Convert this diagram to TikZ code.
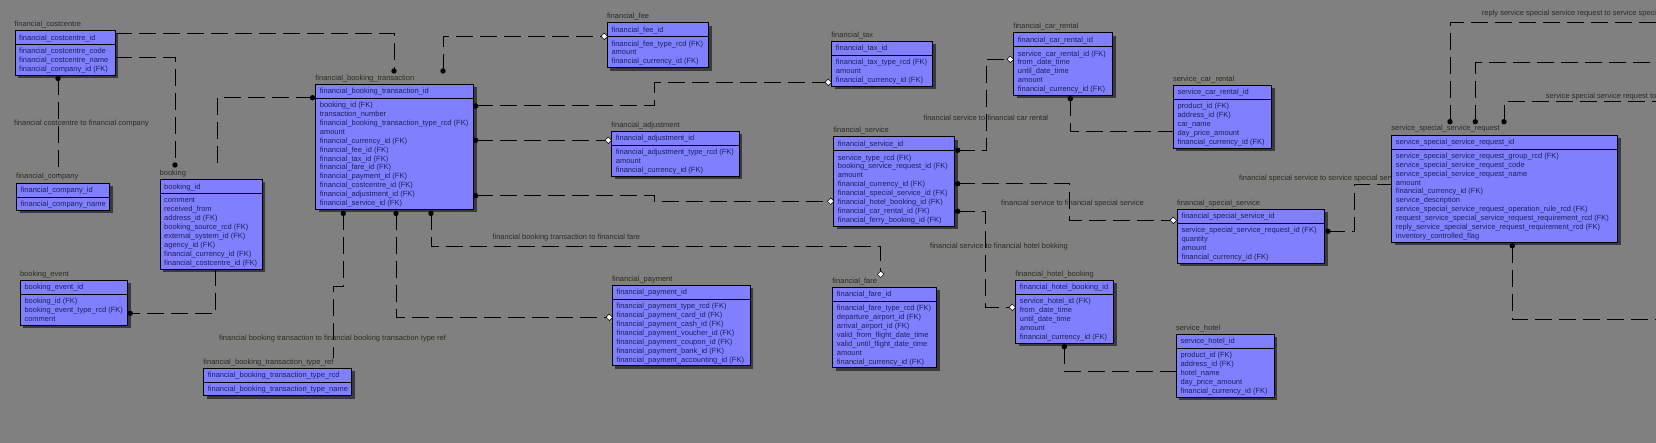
\documentclass[tikz,border=0pt]{standalone}
\usepackage{fontspec}
\setmainfont{Liberation Sans}
\usetikzlibrary{calc}
\definecolor{bgc}{HTML}{808080}
\definecolor{boxfill}{HTML}{8080FF}
\definecolor{rowtxt}{HTML}{1E1E5A}
\definecolor{lbltxt}{HTML}{2E2A20}
\definecolor{shadowc}{HTML}{3A3A3A}
\tikzset{
  entbox/.style={draw=black, line width=0.9pt, fill=boxfill, inner sep=0pt, outer sep=0pt},
  ttl/.style={anchor=base west, inner sep=0pt, text=lbltxt, font=\fontsize{7.5}{9}\selectfont},
  rowt/.style={anchor=base west, inner sep=0pt, text=rowtxt, font=\fontsize{7.5}{9}\selectfont},
  lbl/.style={anchor=base west, inner sep=0pt, text=lbltxt, font=\fontsize{7.5}{9}\selectfont},
  rel/.style={draw=black, line width=1pt, dash pattern=on 17pt off 7pt},
}
\newcommand\entity[8]{%
  \pgfmathsetmacro\ybot{#3+18.3+#5*8.9}%
  \fill[shadowc] (#2+3,#3+3) rectangle (#4+3,\ybot+3);
  \node[entbox, minimum width={#4-#2}, minimum height={\ybot-#3}, anchor=north west] (#1) at (#2,#3) {};
  \draw[line width=0.9pt] (#2,#3+14) -- (#4,#3+14);
  \node[ttl] at (#2-0.5,#3-4) {#6};
  \node[rowt] at (#2+4,#3+9.6) {#7};
  \foreach \r [count=\i] in {#8} \node[rowt] at (#2+4,#3+23.4+\i*8.9-8.9) {\r};
}
\newcommand\dotat[1]{\fill[black] (#1) circle (2.7);}
\newcommand\diamat[1]{\filldraw[fill=white,draw=black,line width=0.5pt] ([xshift=-3.3pt]#1) -- ([yshift=3.3pt]#1) -- ([xshift=3.3pt]#1) -- ([yshift=-3.3pt]#1) -- cycle;}
\begin{document}
\catcode`\_=12
\begin{tikzpicture}[x=1pt,y=-1pt]
\clip (0,0) rectangle (1656,443);
\fill[bgc] (0,0) rectangle (1656,443);

% relation labels
\node[lbl] (l1) at (14,125.6) {financial costcentre to financial company};
\node[lbl] (l2) at (219,340.9) {financial booking transaction to financial booking transaction type ref};
\node[lbl] (l3) at (492.3,239.6) {financial booking transaction to financial fare};
\node[lbl] (l4) at (923.3,120.6) {financial service to financial car rental};
\node[lbl] (l5) at (1001,205.6) {financial service to financial special service};
\node[lbl] (l6) at (930,248.6) {financial service to financial hotel bokking};
\node[lbl] (l7) at (1239,180.9) {financial special service to service special service request};
\node[lbl] (l8) at (1481.7,15.3) {reply service special service request to service special service request};
\node[lbl] (l9) at (1545.7,98.9) {service special service request to service special};

% entities
\entity{cc}{15}{30.5}{115}{3}{financial_costcentre}{financial_costcentre_id}{financial_costcentre_code,financial_costcentre_name,financial_company_id (FK)}
\entity{comp}{16.5}{183}{109.5}{1}{financial_company}{financial_company_id}{financial_company_name}
\entity{bk}{160}{179.5}{262}{8}{booking}{booking_id}{comment,received_from,address_id (FK),booking_source_rcd (FK),external_system_id (FK),agency_id (FK),financial_currency_id (FK),financial_costcentre_id (FK)}
\entity{bev}{20.3}{280.3}{127.7}{3}{booking_event}{booking_event_id}{booking_id (FK),booking_event_type_rcd (FK),comment}
\entity{tref}{203.7}{368.3}{351.7}{1}{financial_booking_transaction_type_ref}{financial_booking_transaction_type_rcd}{financial_booking_transaction_type_name}
\entity{fbt}{315.7}{84.3}{473.7}{12}{financial_booking_transaction}{financial_booking_transaction_id}{booking_id (FK),transaction_number,financial_booking_transaction_type_rcd (FK),amount,financial_currency_id (FK),financial_fee_id (FK),financial_tax_id (FK),financial_fare_id (FK),financial_payment_id (FK),financial_costcentre_id (FK),financial_adjustment_id (FK),financial_service_id (FK)}
\entity{fee}{607.3}{22.7}{708.7}{3}{financial_fee}{financial_fee_id}{financial_fee_type_rcd (FK),amount,financial_currency_id (FK)}
\entity{adj}{611.7}{131.3}{739.3}{3}{financial_adjustment}{financial_adjustment_id}{financial_adjustment_type_rcd (FK),amount,financial_currency_id (FK)}
\entity{pay}{612.3}{285.3}{750.3}{7}{financial_payment}{financial_payment_id}{financial_payment_type_rcd (FK),financial_payment_card_id (FK),financial_payment_cash_id (FK),financial_payment_voucher_id (FK),financial_payment_coupon_id (FK),financial_payment_bank_id (FK),financial_payment_accounting_id (FK)}
\entity{tax}{831.7}{41.3}{932.7}{3}{financial_tax}{financial_tax_id}{financial_tax_type_rcd (FK),amount,financial_currency_id (FK)}
\entity{svc}{833.7}{136.7}{954.7}{8}{financial_service}{financial_service_id}{service_type_rcd (FK),booking_service_request_id (FK),amount,financial_currency_id (FK),financial_special_service_id (FK),financial_hotel_booking_id (FK),financial_car_rental_id (FK),financial_ferry_booking_id (FK)}
\entity{fare}{832.7}{287.3}{936.7}{7}{financial_fare}{financial_fare_id}{financial_fare_type_rcd (FK),departure_airport_id (FK),arrival_airport_id (FK),valid_from_flight_date_time,valid_until_flight_date_time,amount,financial_currency_id (FK)}
\entity{car}{1013.7}{32.7}{1112.7}{5}{financial_car_rental}{financial_car_rental_id}{service_car_rental_id (FK),from_date_time,until_date_time,amount,financial_currency_id (FK)}
\entity{hotel}{1015.7}{280.3}{1113.7}{5}{financial_hotel_booking}{financial_hotel_booking_id}{service_hotel_id (FK),from_date_time,until_date_time,amount,financial_currency_id (FK)}
\entity{scar}{1173.3}{85.3}{1271.7}{5}{service_car_rental}{service_car_rental_id}{product_id (FK),address_id (FK),car_name,day_price_amount,financial_currency_id (FK)}
\entity{sss}{1177.3}{209.3}{1324.7}{4}{financial_special_service}{financial_special_service_id}{service_special_service_request_id (FK),quantity,amount,financial_currency_id (FK)}
\entity{shot}{1176.3}{334.3}{1274.3}{5}{service_hotel}{service_hotel_id}{product_id (FK),address_id (FK),hotel_name,day_price_amount,financial_currency_id (FK)}
\entity{ssr}{1391.7}{135}{1617.7}{10}{service_special_service_request}{service_special_service_request_id}{service_special_service_request_group_rcd (FK),service_special_service_request_code,service_special_service_request_name,amount,financial_currency_id (FK),service_description,service_special_service_request_operation_rule_rcd (FK),request_service_special_service_request_requirement_rcd (FK),reply_service_special_service_request_requirement_rcd (FK),inventory_controlled_flag}

% connector end points
\coordinate (a1) at ($(cc.north east)+(0,3.5)$);
\coordinate (b1) at ($(fbt.north west)+(78.3,-13.3)$);
\coordinate (a2) at ($(cc.north east)+(0,27)$);
\coordinate (b2) at ($(bk.north west)+(15,-14.5)$);
\coordinate (a3) at ($(cc.south west)+(43,3)$);
\coordinate (b3) at ($(comp.north west)+(41.5,-8)$);
\coordinate (a4) at ($(fbt.north west)+(-3.2,13.4)$);
\coordinate (b4) at ($(bk.north west)+(57,-9.5)$);
\coordinate (a5) at ($(bk.south west)+(55.7,0)$);
\coordinate (b5) at ($(bev.north east)+(2.5,33)$);
\coordinate (a6) at ($(fbt.south west)+(27.6,4)$);
\coordinate (b6) at ($(tref.north west)+(129.6,-10)$);
\coordinate (a7) at ($(fbt.south west)+(80.3,4)$);
\coordinate (b7) at ($(pay.north west)+(-3,32)$);
\coordinate (a8) at ($(fbt.south west)+(115.3,4)$);
\coordinate (b8) at ($(fare.north west)+(48,-13)$);
\coordinate (a9) at ($(fbt.north west)+(127.3,-13.3)$);
\coordinate (b9) at ($(fee.north west)+(-3,13.6)$);
\coordinate (a10) at ($(fbt.north east)+(2,21.7)$);
\coordinate (b10) at ($(tax.north west)+(-3.4,41)$);
\coordinate (a11) at ($(fbt.north east)+(2,56)$);
\coordinate (b11) at ($(adj.north west)+(-3.4,9)$);
\coordinate (a12) at ($(fbt.north east)+(2,111.4)$);
\coordinate (b12) at ($(svc.north west)+(-3,64.6)$);
\coordinate (a13) at ($(svc.north east)+(3,13.6)$);
\coordinate (b13) at ($(car.north west)+(-3.4,26.6)$);
\coordinate (a14) at ($(svc.north east)+(3,47)$);
\coordinate (b14) at ($(sss.north west)+(-4,11)$);
\coordinate (a15) at ($(svc.north east)+(3,74.6)$);
\coordinate (b15) at ($(hotel.north west)+(-3.4,27)$);
\coordinate (a16) at ($(car.south west)+(56.6,3.2)$);
\coordinate (b16) at ($(scar.north west)+(0,46)$);
\coordinate (a17) at ($(hotel.south west)+(48.6,3.6)$);
\coordinate (b17) at ($(shot.north west)+(0,37.2)$);
\coordinate (a18) at ($(sss.north east)+(3.3,22)$);
\coordinate (b18) at ($(ssr.north west)+(0,49.7)$);
\coordinate (a19) at ($(ssr.north west)+(58.3,-13.3)$);
\coordinate (r19) at (1664,22.3);
\coordinate (a20) at ($(ssr.north west)+(83.6,-13.3)$);
\coordinate (r20) at (1664,63);
\coordinate (a21) at ($(ssr.north west)+(112.3,-13.3)$);
\coordinate (r21) at (1664,101.3);
\coordinate (a22) at ($(ssr.south west)+(120.6,3.4)$);
\coordinate (r22) at (1664,319.3);

% connectors
\draw[rel] (a1) -| (b1);
\draw[rel] (a2) -| (b2);
\draw[rel] (a3) -- (b3);
\draw[rel] (a4) -| (b4);
\draw[rel] (a5) |- (b5);
\draw[rel] (a6) -- ++(0,73.6) -| (b6);
\draw[rel] (a7) |- (b7);
\draw[rel] (a8) -- ++(0,33) -| (b8);
\draw[rel] (a9) |- (b9);
\draw[rel] (a10) -- ++(178.6,0) |- (b10);
\draw[rel] (a11) -- (b11);
\draw[rel] (a12) -- ++(178.3,0) |- (b12);
\draw[rel] (a13) -- ++(28.3,0) |- (b13);
\draw[rel] (a14) -- ++(111.6,0) |- (b14);
\draw[rel] (a15) -- ++(28,0) |- (b15);
\draw[rel] (a16) |- (b16);
\draw[rel] (a17) |- (b17);
\draw[rel] (a18) -- ++(26.3,0) |- (b18);
\draw[rel] (a19) |- (r19);
\draw[rel] (a20) |- (r20);
\draw[rel] (a21) |- (r21);
\draw[rel] (a22) |- (r22);

% markers
\dotat{b1} \dotat{b2} \dotat{a3} \dotat{a4} \dotat{b5} \dotat{a6}
\dotat{a7} \diamat{b7} \dotat{a8} \diamat{b8} \dotat{a9} \diamat{b9}
\dotat{a10} \diamat{b10} \dotat{a11} \diamat{b11} \dotat{a12} \diamat{b12}
\dotat{a13} \diamat{b13} \dotat{a14} \diamat{b14} \dotat{a15} \diamat{b15}
\dotat{a16} \dotat{a17} \dotat{a18}
\dotat{a19} \dotat{a20} \dotat{a21} \dotat{a22}
\end{tikzpicture}
\end{document}
